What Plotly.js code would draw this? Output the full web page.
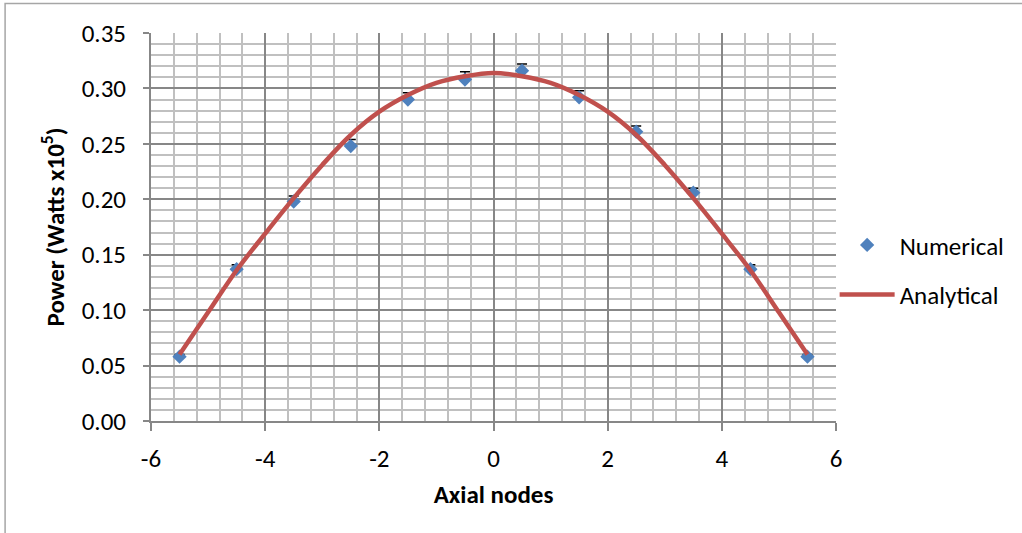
<!DOCTYPE html>
<html>
<head>
<meta charset="utf-8">
<script src="https://cdn.plot.ly/plotly-3.0.1.min.js"></script>
<style>
  html, body { margin: 0; padding: 0; background: #fff; }
  #chart { width: 1022px; height: 533px; }
</style>
</head>
<body>
<div id="chart"></div>
<script>
// Numerical solution at the node centres, with its upper error estimate
const nodeX = [-5.5, -4.5, -3.5, -2.5, -1.5, -0.5, 0.5, 1.5, 2.5, 3.5, 4.5, 5.5];
const numericalPower = [0.058, 0.137, 0.198, 0.248, 0.290, 0.308, 0.316, 0.292, 0.261, 0.206, 0.137, 0.058];
const numericalErrUp = [0.002, 0.004, 0.005, 0.006, 0.006, 0.007, 0.006, 0.006, 0.005, 0.004, 0.004, 0.002];
const numericalErrDown = [0, 0, 0, 0, 0, 0, 0, 0, 0, 0, 0, 0];

// Analytical power profile sampled along the axis
const analyticalX = [-5.5, -5, -4.5, -4, -3.5, -3, -2.5, -2, -1.5, -1, -0.5, 0,
                     0.5, 1, 1.5, 2, 2.5, 3, 3.5, 4, 4.5, 5, 5.5];
const analyticalPower = [0.060, 0.098, 0.136, 0.169, 0.201, 0.231, 0.258, 0.279, 0.294, 0.305, 0.311, 0.314,
                         0.311, 0.305, 0.294, 0.279, 0.258, 0.231, 0.201, 0.169, 0.136, 0.098, 0.060];

// Axis tick labels (plain hyphen minus)
const xTickVals = [-6, -4, -2, 0, 2, 4, 6];
const xTickText = ['-6', '-4', '-2', '0', '2', '4', '6'];

const FONT = 'Carlito, Calibri, Lato, sans-serif';
const FONT_SIZE = 25;
const MAJOR_GRID = '#878787';
const MINOR_GRID = '#c0c0c0';

const traces = [
  {
    type: 'scatter',
    mode: 'markers',
    name: 'Numerical',
    x: nodeX,
    y: numericalPower,
    legendgroup: 'num',
    marker: { symbol: 'diamond', size: 11, color: '#4f81bd' },
    error_y: {
      type: 'data',
      symmetric: false,
      array: numericalErrUp,
      arrayminus: numericalErrDown,
      color: '#000000',
      thickness: 1.5,
      width: 5
    }
  },
  {
    type: 'scatter',
    mode: 'lines',
    name: 'Analytical',
    x: analyticalX,
    y: analyticalPower,
    legendgroup: 'ana',
    line: { color: '#c0504d', width: 4.5, shape: 'spline', smoothing: 1 }
  }
];

const layout = {
  width: 1022,
  height: 533,
  margin: { l: 151, r: 186, t: 33, b: 112 },
  paper_bgcolor: '#ffffff',
  plot_bgcolor: '#ffffff',
  font: { family: FONT, size: FONT_SIZE, color: '#000000' },
  showlegend: true,
  legend: {
    x: 0.998, xanchor: 'left',
    y: 0.39, yanchor: 'middle',
    traceorder: 'grouped',
    tracegroupgap: 14,
    itemwidth: 55,
    bgcolor: 'rgba(0,0,0,0)',
    font: { family: FONT, size: FONT_SIZE, color: '#000000' }
  },
  xaxis: {
    range: [-6, 6],
    tickmode: 'array',
    tickvals: xTickVals,
    ticktext: xTickText,
    showgrid: true,
    gridcolor: MAJOR_GRID,
    gridwidth: 2,
    zeroline: false,
    showline: true,
    linecolor: MAJOR_GRID,
    linewidth: 2,
    ticks: 'outside',
    ticklen: 8,
    tickwidth: 2,
    tickcolor: MAJOR_GRID,
    ticklabelstandoff: 6,
    minor: { tickmode: 'linear', tick0: 0, dtick: 0.4, showgrid: true, gridcolor: MINOR_GRID, gridwidth: 2 },
    title: { text: '<b>Axial nodes</b>', standoff: 12, font: { family: FONT, size: FONT_SIZE, color: '#000000' } }
  },
  yaxis: {
    range: [0, 0.35],
    dtick: 0.05,
    tickformat: '.2f',
    showgrid: true,
    gridcolor: MAJOR_GRID,
    gridwidth: 2,
    zeroline: false,
    showline: true,
    linecolor: MAJOR_GRID,
    linewidth: 2,
    ticks: 'outside',
    ticklen: 6,
    tickwidth: 2,
    tickcolor: MAJOR_GRID,
    ticklabelstandoff: 12,
    minor: { dtick: 0.01, showgrid: true, gridcolor: MINOR_GRID, gridwidth: 2 },
    title: { text: '<b>Power (Watts x10<sup>5</sup>)</b>', standoff: 10, font: { family: FONT, size: FONT_SIZE, color: '#000000' } }
  },
  shapes: [
    // chart area frame
    {
      type: 'rect', xref: 'paper', yref: 'paper',
      x0: -0.213, x1: 1.4, y0: -0.5, y1: 1.076,
      line: { color: '#a6a6a6', width: 1.5 },
      fillcolor: 'rgba(0,0,0,0)',
      layer: 'below'
    }
  ]
};

Plotly.newPlot('chart', traces, layout, { staticPlot: true, displayModeBar: false });
</script>
</body>
</html>
